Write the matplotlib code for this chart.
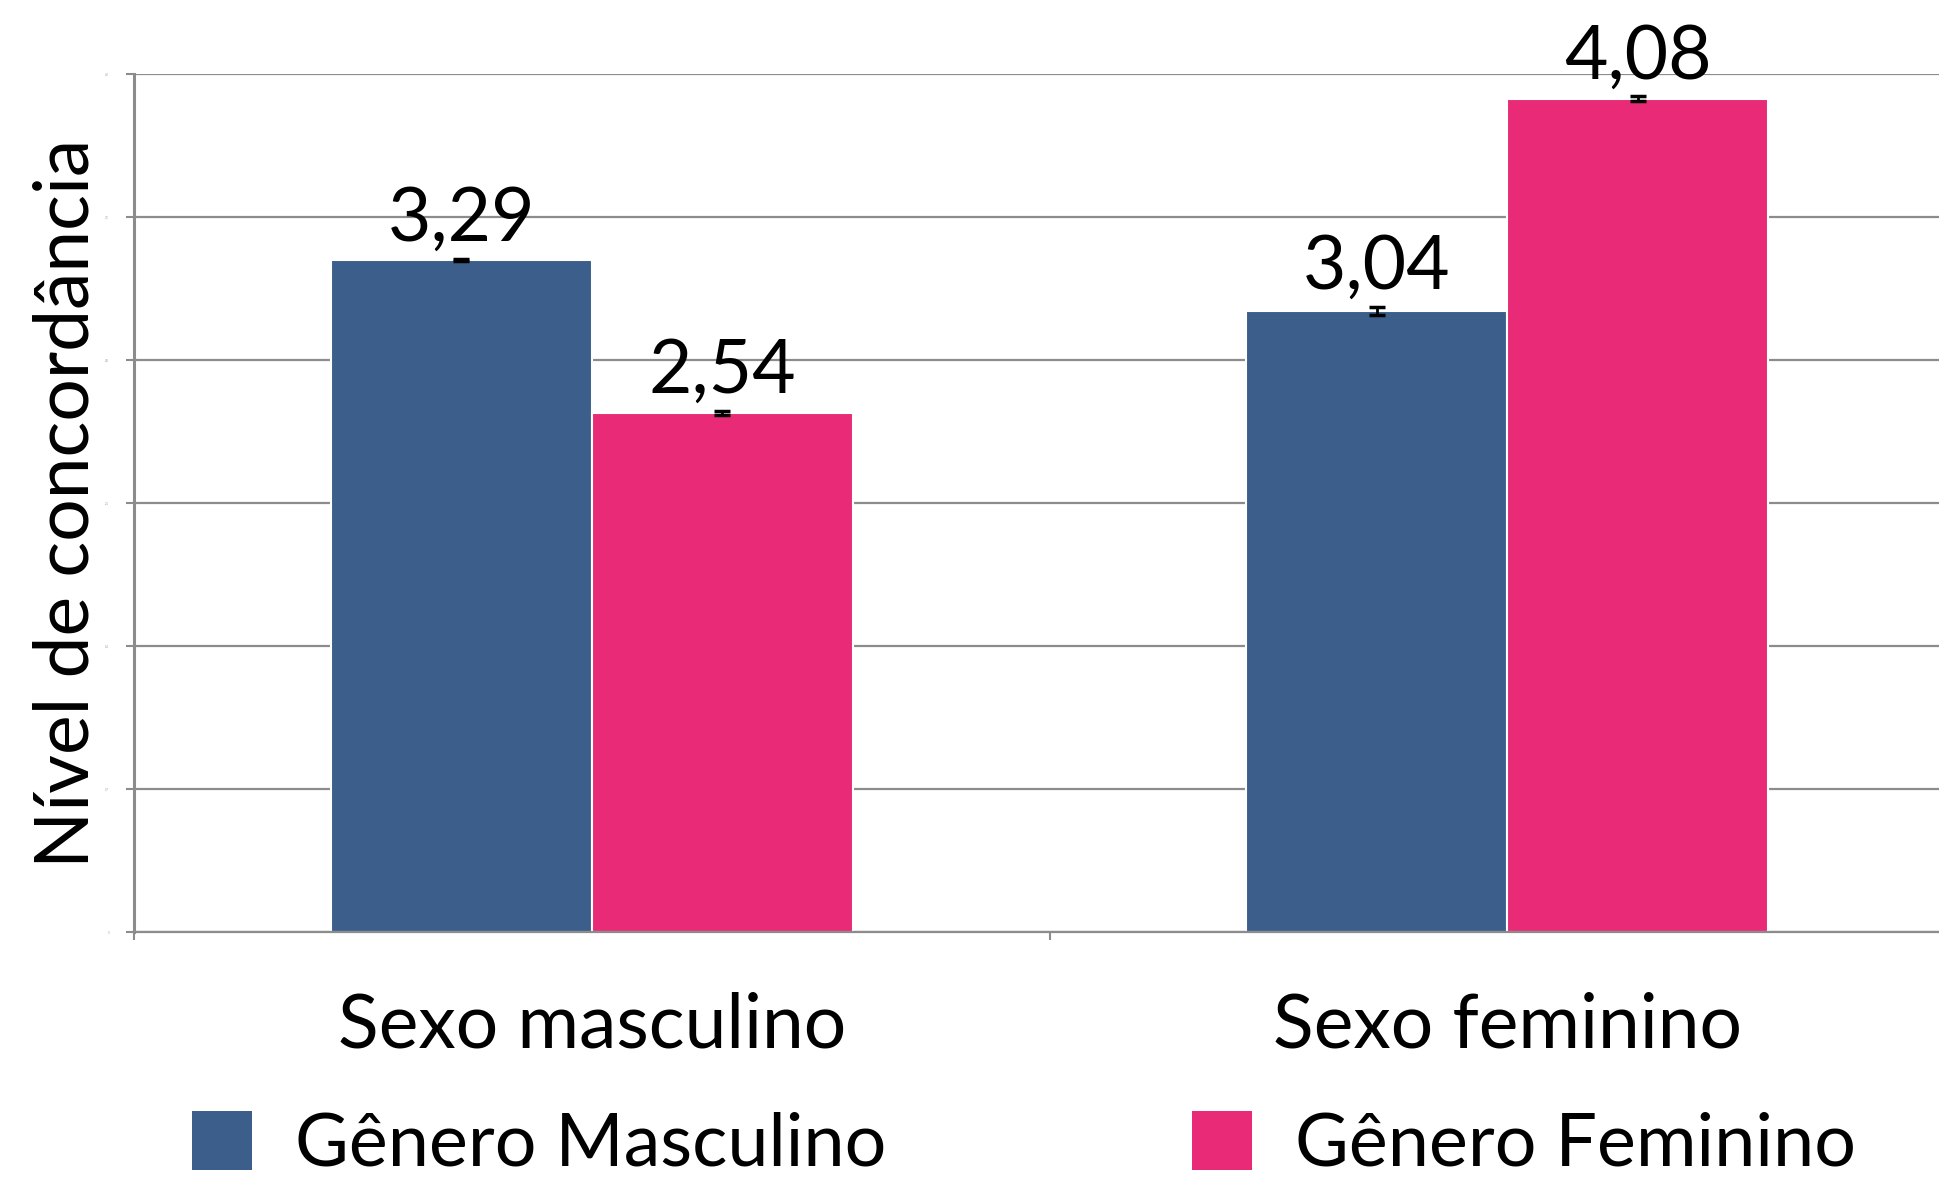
import matplotlib
matplotlib.use("Agg")
import matplotlib.pyplot as plt
from matplotlib.patches import Patch
import numpy as np

categories = ["Sexo masculino", "Sexo feminino"]
series_names = ["Gênero Masculino", "Gênero Feminino"]
masc_values = [3.29, 3.04]
fem_values = [2.54, 4.08]
masc_err = [0.005, 0.02]
fem_err = [0.01, 0.01]
masc_labels = ["3,29", "3,04"]
fem_labels = ["2,54", "4,08"]
ytick_values = [0, 0.7, 1.4, 2.1, 2.8, 3.5, 4.2]
ytick_labels = ["0", "0,7", "1,4", "2,1", "2,8", "3,5", "4,2"]

BLUE = "#3B5E8A"
PINK = "#E92A76"
GRID = "#8C8C8C"
FONT = ["Lato", "DejaVu Sans"]
plt.rcParams["font.family"] = FONT
FS = 54
FW = "normal"

W, H = 1940, 1179
fig = plt.figure(figsize=(W / 100, H / 100), dpi=100)
ax = fig.add_axes([134 / W, 1 - 932 / H, (1965 - 134) / W, (932 - 74) / H])

centers = np.arange(len(categories)) + 0.5
bw = 0.285
xb = centers - bw / 2
xp = centers + bw / 2

ax.bar(xb, masc_values, width=bw, color=BLUE, edgecolor="white", linewidth=1.5, zorder=2)
ax.bar(xp, fem_values, width=bw, color=PINK, edgecolor="white", linewidth=1.5, zorder=2)
ax.errorbar(xb, masc_values, yerr=masc_err, fmt="none", ecolor="black", elinewidth=2,
            capsize=5.8, capthick=2.5, zorder=3)
ax.errorbar(xp, fem_values, yerr=fem_err, fmt="none", ecolor="black", elinewidth=2,
            capsize=5.8, capthick=2.5, zorder=3)

for x, v, e, lab in zip(list(xb) + list(xp), masc_values + fem_values,
                        masc_err + fem_err, masc_labels + fem_labels):
    ax.annotate(lab, (x, v + e), xytext=(0, 13), textcoords="offset points",
                ha="center", va="baseline", fontsize=FS, fontweight=FW, color="black")

ax.set_xlim(0, len(categories))
ax.set_ylim(0, 4.2)
ax.set_xticks(np.arange(len(categories) + 1))
ax.set_xticklabels([])
ax.set_xticks(centers, minor=True)
ax.set_xticklabels(categories, minor=True, fontsize=FS, fontweight=FW)
ax.tick_params(axis="x", which="minor", length=0, pad=43)
ax.tick_params(axis="x", which="major", length=6, width=1.5, color=GRID, direction="out")

ax.set_yticks(ytick_values)
ax.set_yticklabels(ytick_labels, fontsize=2, color="#999999")
ax.tick_params(axis="y", length=6, width=1.5, color=GRID, pad=12)
ax.yaxis.grid(True, color=GRID, linewidth=1.6)
ax.set_axisbelow(True)

for s in ["top", "right"]:
    ax.spines[s].set_visible(False)
ax.spines["left"].set_color(GRID)
ax.spines["left"].set_linewidth(2.2)
ax.spines["bottom"].set_color(GRID)
ax.spines["bottom"].set_linewidth(1.6)

ax.set_ylabel("Nível de concordância", fontsize=FS, fontweight=FW)
ax.yaxis.set_label_coords(-0.018, 0.5)

handles = [Patch(facecolor=BLUE), Patch(facecolor=PINK)]
fig.legend(handles, series_names, loc="lower left", bbox_to_anchor=(192 / W, 0.0),
           ncol=2, frameon=False, prop={"weight": FW, "size": 53},
           handlelength=0.82, handleheight=0.87, handletextpad=0.58, columnspacing=4.15,
           borderpad=0.0, borderaxespad=0.0)

fig.savefig("out.png", dpi=100)
